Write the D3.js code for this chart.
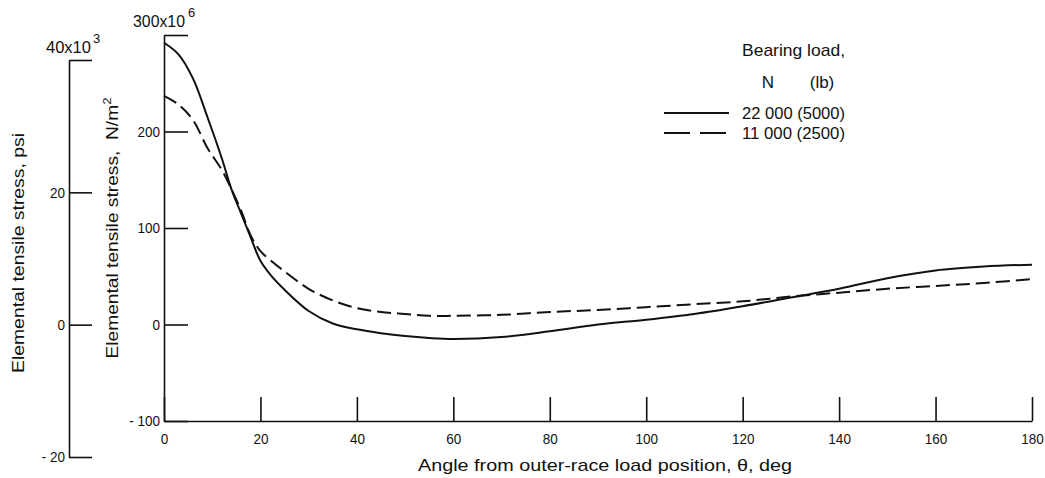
<!DOCTYPE html>
<html>
<head>
<meta charset="utf-8">
<script src="https://cdn.jsdelivr.net/npm/d3@7"></script>
<style>
  body { margin: 0; background: #fff; }
  svg text { font-family: "Liberation Sans", Arial, sans-serif; fill: #111; }
  .axis path, .axis line { stroke: #111; stroke-width: 1.6; }
  .axis text { font-size: 15px; }
</style>
</head>
<body>
<svg class="chart"></svg>
<script>
// angle from outer-race load position, deg
var angles = [0, 3, 6, 9, 12, 14, 16, 18, 20, 22, 25, 30, 35, 40, 45, 50, 55, 60, 70, 80, 90, 100, 110, 120, 130, 140, 150, 160, 170, 180];
// elemental tensile stress, N/m^2 (x10^6)
var load22000 = [292, 280, 255, 215, 172, 140, 115, 90, 66, 52, 36, 14, 1, -5, -9, -12, -14, -15, -13, -7, 0, 5, 11, 19, 28, 37, 48, 56, 60, 62];
var load11000 = [237, 228, 212, 183, 160, 140, 118, 92, 76, 67, 55, 37, 25, 17, 13, 11, 9, 9, 10, 13, 15, 18, 21, 24, 29, 33, 37, 40, 43, 47];
var xTicks = [0, 20, 40, 60, 80, 100, 120, 140, 160, 180];
var yTicks = [-100, 0, 100, 200, 300];
var psiTicks = [-20, 0, 20, 40];
var legendLabels = ['22 000 (5000)', '11 000 (2500)'];

var width = 1045, height = 478;

var svg = d3.select('.chart')
  .attr('width', width)
  .attr('height', height);

// squeeze text horizontally, the original lettering is a narrow face
function condense(sel, k) {
  sel.each(function() {
    var w = this.getComputedTextLength();
    if (w > 0) d3.select(this).attr('textLength', w * k).attr('lengthAdjust', 'spacingAndGlyphs');
  });
}
function fit(sel, w) {
  sel.attr('textLength', w).attr('lengthAdjust', 'spacingAndGlyphs');
}

var x = d3.scaleLinear().domain([0, 180]).range([164, 1032]);
var y = d3.scaleLinear().domain([-100, 300]).range([421, 35]);
var yPsi = d3.scaleLinear().domain([-20, 40]).range([457, 60]);

//X axis
var xAxis = d3.axisBottom(x)
  .tickValues(xTicks)
  .tickSizeInner(-24)
  .tickSizeOuter(0)
  .tickPadding(12);

svg.append('g')
  .attr('class', 'x axis')
  .attr('transform', 'translate(0,' + y(-100) + ')')
  .call(xAxis);

//Y axis, N/m^2
var yAxis = d3.axisLeft(y)
  .tickValues(yTicks)
  .tickSizeInner(-24)
  .tickSizeOuter(0)
  .tickPadding(4)
  .tickFormat(d => d == 300 ? '' : (d < 0 ? '- ' + Math.abs(d) : d));

svg.append('g')
  .attr('class', 'y axis')
  .attr('transform', 'translate(' + x(0) + ',0)')
  .call(yAxis);

//Y axis, psi
var psiAxis = d3.axisLeft(yPsi)
  .tickValues(psiTicks)
  .tickSizeInner(-23)
  .tickSizeOuter(0)
  .tickPadding(4)
  .tickFormat(d => d == 40 ? '' : (d < 0 ? '- ' + Math.abs(d) : d));

svg.append('g')
  .attr('class', 'y axis')
  .attr('transform', 'translate(69,0)')
  .call(psiAxis);

svg.selectAll('.domain').attr('stroke', '#111');
svg.selectAll('.axis .tick text').filter(function() { return this.textContent == ''; }).remove();
condense(svg.selectAll('.axis .tick text'), 0.9);

// exponent labels at the top of each axis
var t1 = svg.append('text')
  .attr('x', x(0) - 31)
  .attr('y', y(300) - 8)
  .style('font-size', '17px')
  .text('300x10');
fit(t1, 52);
svg.append('text')
  .attr('x', x(0) + 24)
  .attr('y', y(300) - 18)
  .style('font-size', '13px')
  .text('6');

var t2 = svg.append('text')
  .attr('x', 46)
  .attr('y', yPsi(40) - 7)
  .style('font-size', '17px')
  .text('40x10');
fit(t2, 45);
svg.append('text')
  .attr('x', 93)
  .attr('y', yPsi(40) - 17)
  .style('font-size', '13px')
  .text('3');

// axis titles
var ty = svg.append('text')
  .attr('transform', 'translate(' + 118 + ',' + 228 + ') rotate(-90)')
  .attr('text-anchor', 'middle')
  .style('font-size', '16px')
  .html('Elemental tensile stress, &#160;N/m<tspan dy="-7" font-size="11px">2</tspan>');
fit(ty, 261);

var tp = svg.append('text')
  .attr('transform', 'translate(' + 24 + ',' + 253 + ') rotate(-90)')
  .attr('text-anchor', 'middle')
  .style('font-size', '16px')
  .text('Elemental tensile stress, psi');
fit(tp, 240);

var tx = svg.append('text')
  .attr('x', 605)
  .attr('y', 471)
  .attr('text-anchor', 'middle')
  .style('font-size', '17px')
  .text('Angle from outer-race load position, \u03b8, deg');
fit(tx, 374);

// curves
var line = d3.line()
  .x(d => x(d[0]))
  .y(d => y(d[1]))
  .curve(d3.curveCatmullRom.alpha(0.5));

var series = [
  { values: load22000, dash: null },
  { values: load11000, dash: '14,6' }
];

svg.selectAll('.curve')
  .data(series)
  .enter().append('path')
  .attr('class', 'curve')
  .attr('fill', 'none')
  .attr('stroke', '#111')
  .attr('stroke-width', 2)
  .attr('stroke-dasharray', d => d.dash)
  .attr('d', d => line(angles.map((a, i) => [a, d.values[i]])));

// legend
var legend = svg.append('g');
var lh = legend.append('text')
  .attr('x', 742).attr('y', 56)
  .style('font-size', '17px')
  .text('Bearing load,');
fit(lh, 103);
legend.append('text')
  .attr('x', 768).attr('y', 88)
  .attr('text-anchor', 'middle')
  .style('font-size', '17px')
  .text('N');
legend.append('text')
  .attr('x', 822).attr('y', 88)
  .attr('text-anchor', 'middle')
  .style('font-size', '17px')
  .text('(lb)');

legend.selectAll('.key')
  .data(series)
  .enter().append('line')
  .attr('x1', 664).attr('x2', 729)
  .attr('y1', (d, i) => 113 + i * 20)
  .attr('y2', (d, i) => 113 + i * 20)
  .attr('stroke', '#111')
  .attr('stroke-width', 2)
  .attr('stroke-dasharray', d => d.dash ? '26,10' : null);

var lk = legend.selectAll('.keylabel')
  .data(legendLabels)
  .enter().append('text')
  .attr('x', 742)
  .attr('y', (d, i) => 119 + i * 20)
  .style('font-size', '17px')
  .text(d => d);
fit(lk, 103);
</script>
</body>
</html>
